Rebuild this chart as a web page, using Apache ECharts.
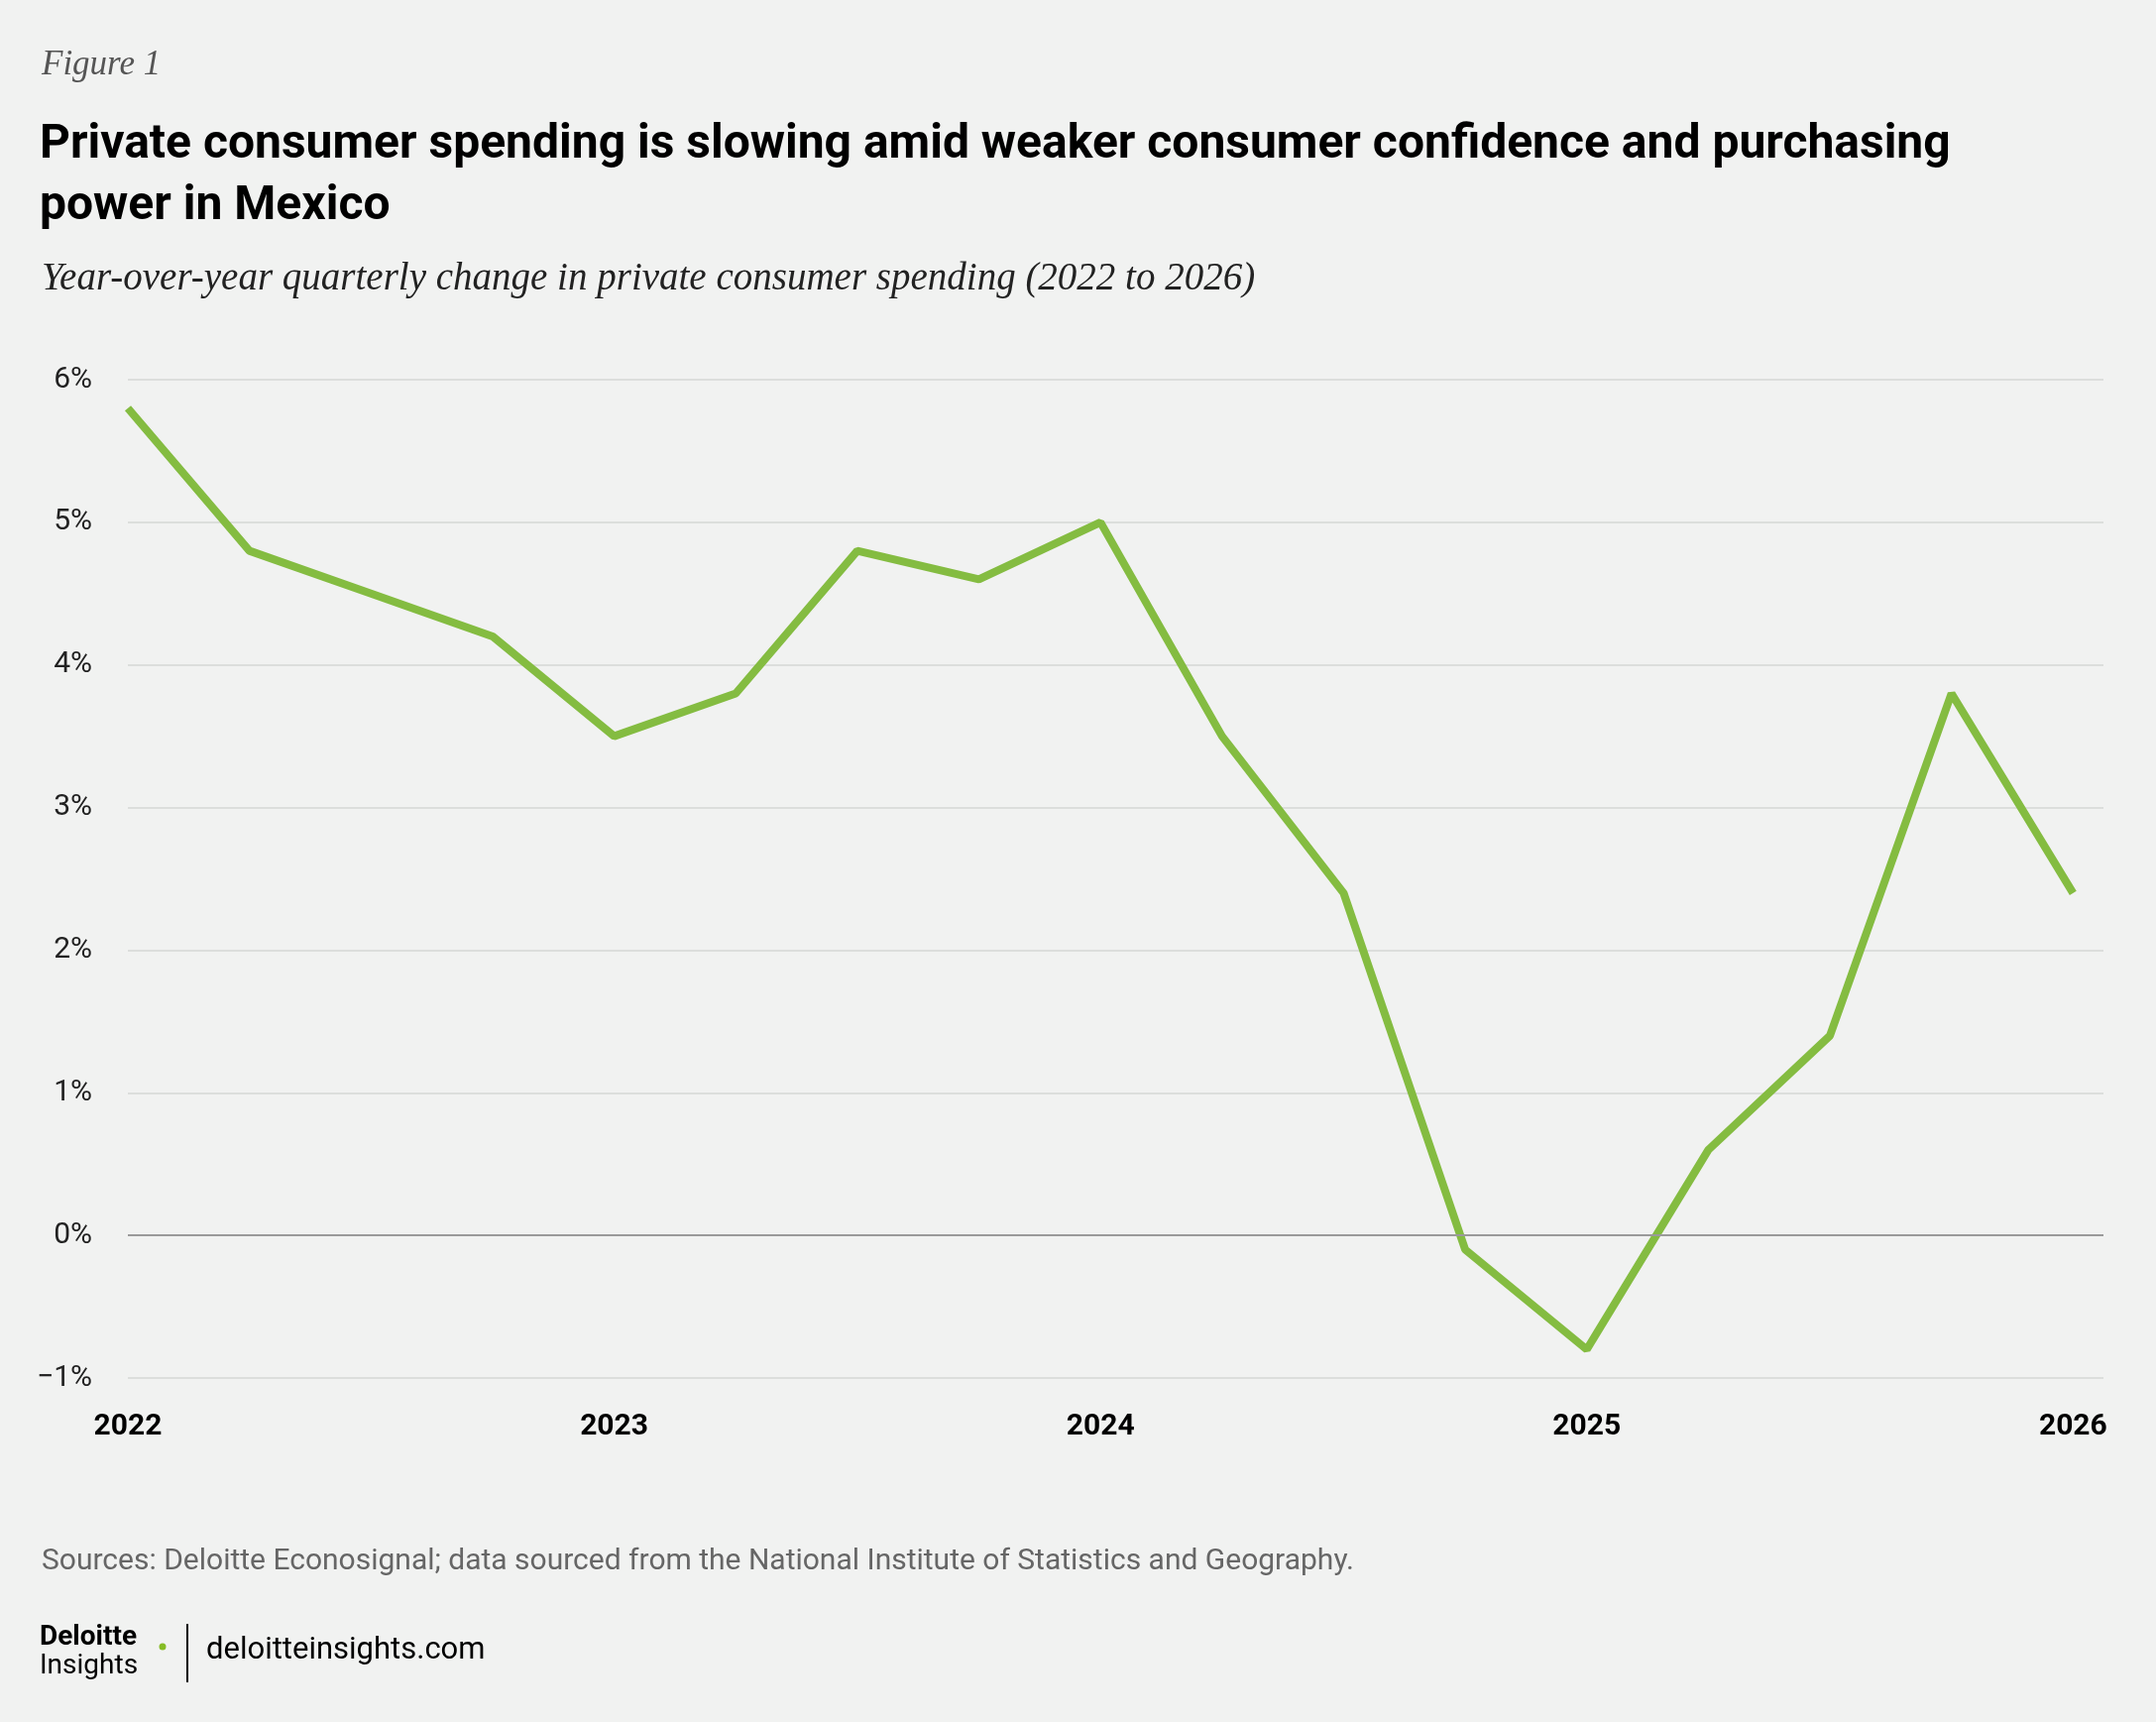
<!DOCTYPE html>
<html lang="en" style="height: 100%">
<head>
    <title>Private consumer spending - Mexico</title>
    <meta charset="utf-8">
</head>
<body style="height: 100%; margin: 0; background: #f1f2f1">
<div id="container" style="height: 100%"></div>
<script type="text/javascript" src="https://cdn.jsdelivr.net/npm/echarts@6/dist/echarts.min.js"></script>
<script type="text/javascript">
    var dom = document.getElementById('container');
    var myChart = echarts.init(dom, null, {renderer: 'canvas'});

    // quarterly y/y change, Q1 2022 .. Q1 2026
    var values = [5.8, 4.8, 4.5, 4.2, 3.5, 3.8, 4.8, 4.6, 5.0, 3.5, 2.4, -0.1, -0.8, 0.6, 1.4, 3.8, 2.4];
    var years = {0: '2022', 4: '2023', 8: '2024', 12: '2025', 16: '2026'};
    var data = values.map(function (v, i) { return [i, v]; });

    var serif = '"Liberation Serif", "DejaVu Serif", serif';
    var sans = '"Roboto", sans-serif';

    var option = {
        backgroundColor: '#f1f2f1',
        animation: false,
        graphic: [
            {type: 'text', left: 42, top: 48, style: {text: 'Figure 1', font: 'italic 35px ' + serif, fill: '#555'}},
            {type: 'text', left: 40, top: 116, style: {
                text: 'Private consumer spending is slowing amid weaker consumer confidence and purchasing\npower in Mexico',
                font: 'bold 48px ' + sans, fill: '#000', lineHeight: 62}},
            {type: 'text', left: 42, top: 262, style: {text: 'Year-over-year quarterly change in private consumer spending (2022 to 2026)', font: 'italic 39px ' + serif, fill: '#222'}},
            {type: 'text', left: 42, top: 1560, style: {text: 'Sources: Deloitte Econosignal; data sourced from the National Institute of Statistics and Geography.', font: '30px ' + sans, fill: '#666'}},
            {type: 'text', left: 40, top: 1638, style: {text: 'Deloitte', font: 'bold 28px ' + sans, fill: '#000'}},
            {type: 'circle', shape: {cx: 164, cy: 1661, r: 3.5}, style: {fill: '#86bc25'}},
            {type: 'text', left: 40, top: 1667, style: {text: 'Insights', font: '28px ' + sans, fill: '#000'}},
            {type: 'line', shape: {x1: 189, y1: 1638, x2: 189, y2: 1697}, style: {stroke: '#000', lineWidth: 2}},
            {type: 'text', left: 208, top: 1650, style: {text: 'deloitteinsights.com', font: '31px ' + sans, fill: '#000'}}
        ],
        grid: {left: 129, right: 53, top: 383, bottom: 347},
        xAxis: {
            type: 'value', min: 0, max: 16.25, interval: 4,
            axisLine: {show: false}, axisTick: {show: false}, splitLine: {show: false},
            axisLabel: {
                customValues: [0, 4, 8, 12, 16],
                formatter: function (v) { return years[v] || ''; },
                fontFamily: sans, fontWeight: 'bold', fontSize: 30, color: '#000', margin: 34
            }
        },
        yAxis: {
            type: 'value', min: -1, max: 6, interval: 1,
            axisLine: {show: false}, axisTick: {show: false},
            splitLine: {lineStyle: {color: '#d5d7d5', width: 1.5}},
            axisLabel: {
                formatter: function (v) { return (v < 0 ? '\u2212' + (-v) : v) + '%'; },
                fontFamily: sans, fontSize: 30, color: '#222', margin: 36
            }
        },
        series: [{
            type: 'line', data: data, symbol: 'none',
            lineStyle: {color: '#84bc41', width: 8},
            markLine: {
                silent: true, symbol: 'none', label: {show: false},
                lineStyle: {color: '#9a9a9a', width: 2, type: 'solid'},
                data: [{yAxis: 0}]
            }
        }]
    };

    myChart.setOption(option);
    window.addEventListener('resize', myChart.resize);
</script>
</body>
</html>
